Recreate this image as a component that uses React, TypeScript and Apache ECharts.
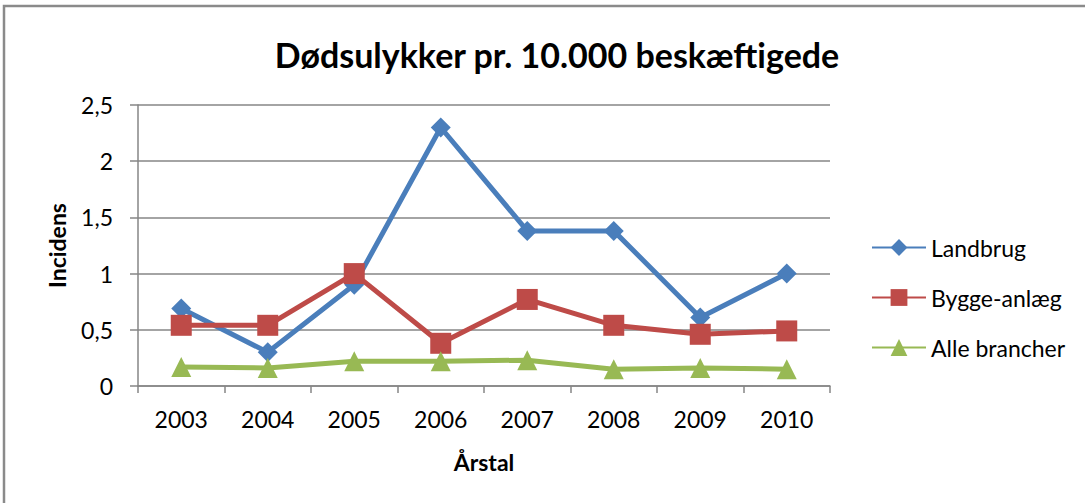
import React, { useEffect, useRef } from "react";
import * as echarts from "echarts";

const years = ["2003", "2004", "2005", "2006", "2007", "2008", "2009", "2010"];
const landbrug = [0.69, 0.3, 0.9, 2.3, 1.38, 1.38, 0.61, 1.0];
const byggeAnlaeg = [0.54, 0.54, 1.0, 0.38, 0.77, 0.54, 0.46, 0.49];
const alleBrancher = [0.17, 0.16, 0.22, 0.22, 0.23, 0.15, 0.16, 0.15];
const seriesNames = ["Landbrug", "Bygge-anlæg", "Alle brancher"];
const colors = ["#4A7EBB", "#BE4B48", "#98B954"];

const FONT = "Lato, 'Open Sans', sans-serif";

export default function App() {
  const ref = useRef<HTMLDivElement>(null);
  useEffect(() => {
    if (!ref.current) return;
    const chart = echarts.init(ref.current, null, { renderer: "svg" });
    const mk = (name: string, data: number[], color: string, symbol: string, size: number) => ({
      name,
      type: "line",
      data,
      symbol,
      symbolSize: size,
      lineStyle: { color, width: 5 },
      itemStyle: { color },
      z: 3,
    });
    chart.setOption({
      animation: false,
      backgroundColor: "#ffffff",
      textStyle: { fontFamily: FONT },
      title: {
        text: "Dødsulykker pr. 10.000 beskæftigede",
        left: 552,
        top: 32,
        textAlign: "center",
        textStyle: { fontFamily: FONT, fontSize: 34, fontWeight: "bold", color: "#000" },
      },
      legend: {
        orient: "vertical",
        left: 866,
        top: 231,
        itemGap: 27,
        itemWidth: 54,
        itemHeight: 21,
        textStyle: { fontFamily: FONT, fontSize: 23, color: "#000" },
        data: seriesNames,
      },
      grid: { left: 138, right: 255, top: 105, bottom: 117 },
      xAxis: {
        type: "category",
        data: years,
        boundaryGap: true,
        name: "Årstal",
        nameLocation: "middle",
        nameGap: 64,
        nameTextStyle: { fontFamily: FONT, fontSize: 23, fontWeight: "bold", color: "#000" },
        axisLine: { lineStyle: { color: "#868686", width: 1.5 } },
        axisTick: { show: true, length: 7, lineStyle: { color: "#868686", width: 1.5 } },
        axisLabel: { fontFamily: FONT, fontSize: 23, color: "#000", margin: 21 },
      },
      yAxis: {
        type: "value",
        min: 0,
        max: 2.5,
        interval: 0.5,
        name: "Incidens",
        nameLocation: "middle",
        nameGap: 70,
        nameTextStyle: { fontFamily: FONT, fontSize: 23, fontWeight: "bold", color: "#000" },
        axisLine: { show: true, lineStyle: { color: "#868686", width: 1.5 } },
        axisTick: { show: true, length: 8, inside: false, lineStyle: { color: "#868686", width: 1.5 } },
        splitLine: { lineStyle: { color: "#868686", width: 1.5 } },
        axisLabel: {
          fontFamily: FONT,
          fontSize: 23,
          color: "#000",
          margin: 25,
          formatter: (v: number) => String(v).replace(".", ","),
        },
      },
      graphic: [
        {
          type: "rect",
          shape: { x: 4, y: 6, width: 1200, height: 600 },
          style: { fill: "none", stroke: "#8a8a8a", lineWidth: 2.5 },
          z: 0,
        },
      ],
      series: [
        mk(seriesNames[0], landbrug, colors[0], "diamond", 20),
        mk(seriesNames[1], byggeAnlaeg, colors[1], "rect", 21),
        mk(seriesNames[2], alleBrancher, colors[2], "triangle", 20),
      ],
    });
    return () => chart.dispose();
  }, []);
  return (
    <div
      ref={ref}
      style={{ position: "fixed", left: 0, top: 0, width: 1085, height: 503 }}
    />
  );
}
